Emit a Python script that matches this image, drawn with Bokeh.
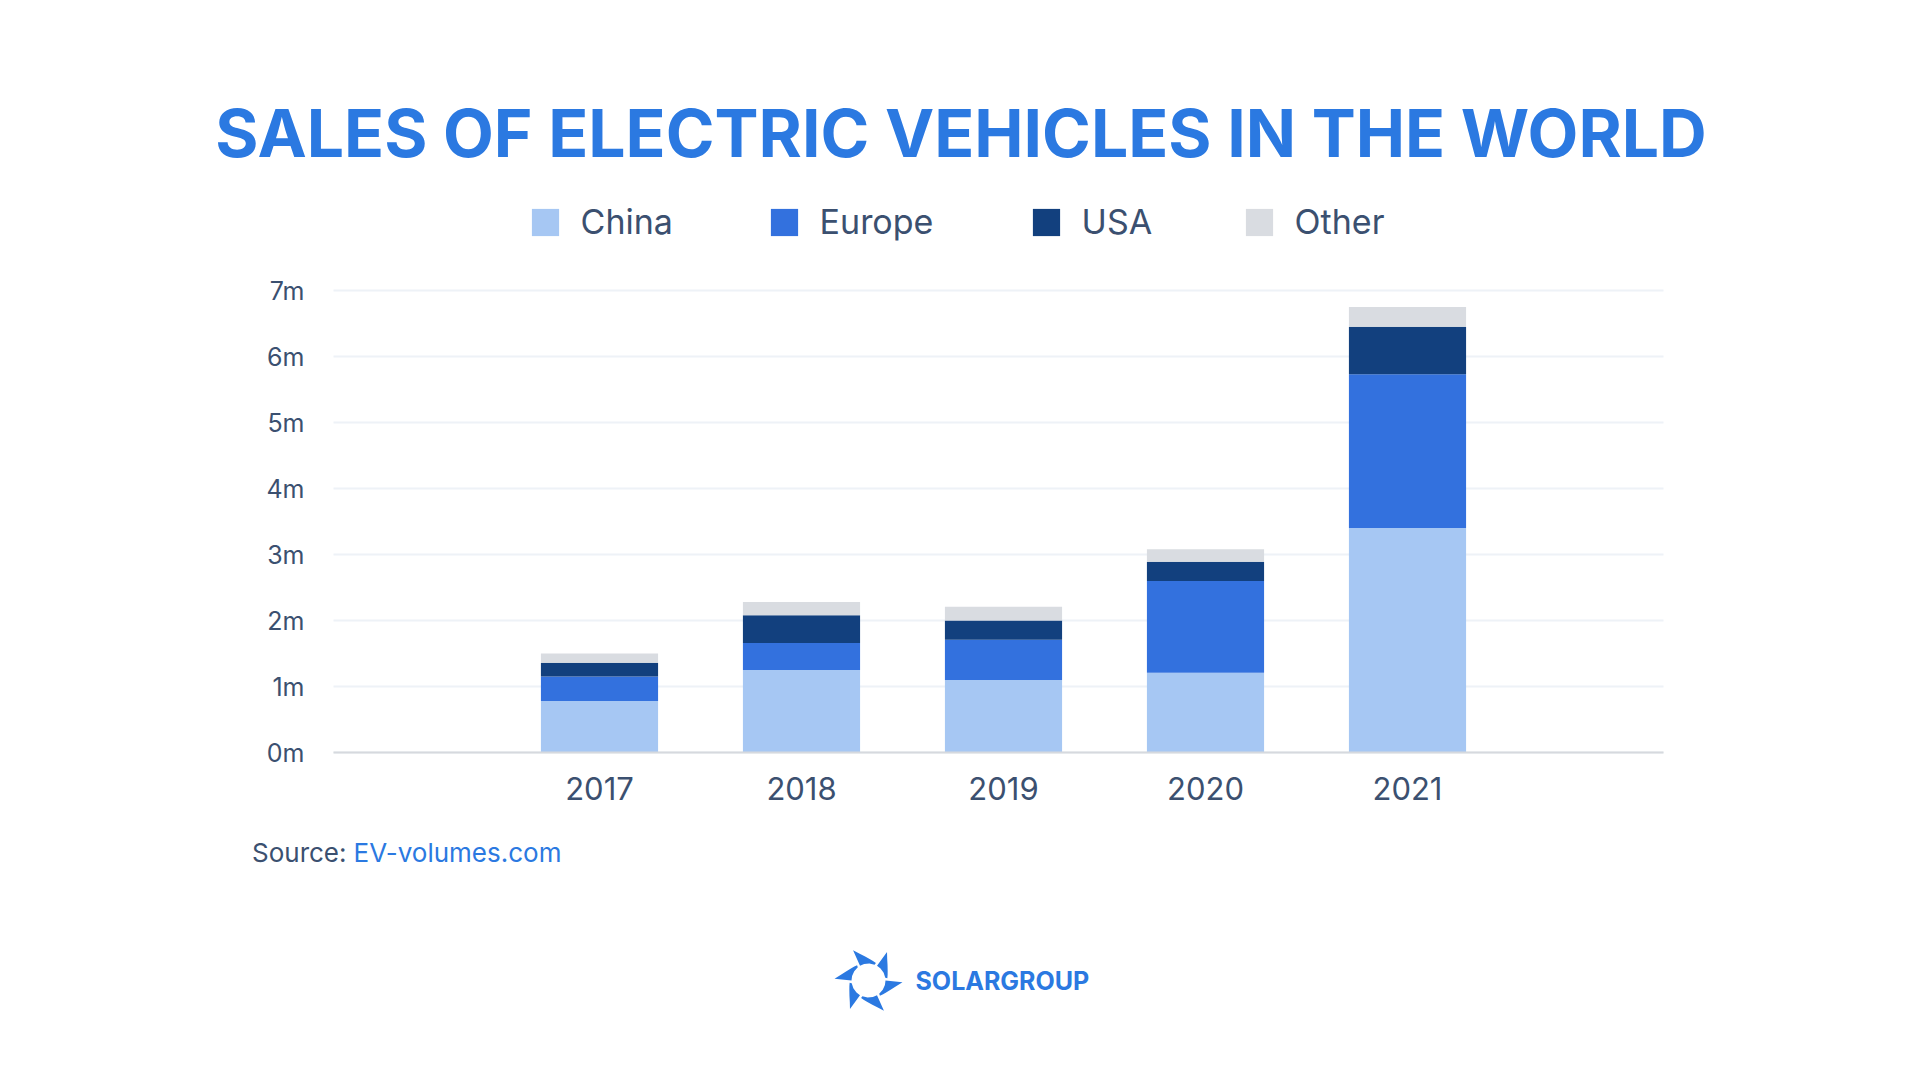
import numpy as np
from bokeh.plotting import figure
from bokeh.models import (ColumnDataSource, Range1d, FixedTicker, Label, Legend,
                          LegendItem, LinearAxis)
from bokeh.embed import file_html
from bokeh.resources import INLINE

# ---------------- data ----------------
years = ["2017", "2018", "2019", "2020", "2021"]
china = [0.78, 1.25, 1.10, 1.21, 3.40]
europe = [0.37, 0.41, 0.61, 1.39, 2.33]
usa = [0.21, 0.42, 0.29, 0.29, 0.72]
other = [0.14, 0.20, 0.21, 0.19, 0.30]
series_names = ["China", "Europe", "USA", "Other"]
series_colors = ["#a6c7f3", "#3371de", "#12407e", "#d9dce1"]
y_ticks = [0, 1, 2, 3, 4, 5, 6, 7]
y_tick_labels = ["0m", "1m", "2m", "3m", "4m", "5m", "6m", "7m"]
title_text = "SALES OF ELECTRIC VEHICLES IN THE WORLD"
source_prefix = "Source:"
source_link = "EV-volumes.com"
brand = "SOLARGROUP"

# ---------------- styles / layout (pixels) ----------------
FONT = "Inter"
BLUE = "#2b79e1"
SLATE = "#3b5070"
W, H = 1904, 1064
PX_PER_CAT = 202.0        # horizontal pixels per category
PX_PER_M = 66.0           # vertical pixels per million
CAT0_PX = 599.0           # pixel x of first category centre
ZERO_PY = 752.0           # pixel y of the 0m baseline
PLOT_L, PLOT_R = 333.0, 1663.0

X0 = -CAT0_PX / PX_PER_CAT
X1 = X0 + W / PX_PER_CAT
Y1 = ZERO_PY / PX_PER_M
Y0 = Y1 - H / PX_PER_M


def dx(px):
    return X0 + px / PX_PER_CAT


def dy(py):
    return (ZERO_PY - py) / PX_PER_M


xpos = list(range(len(years)))
src = ColumnDataSource(dict(x=xpos, China=china, Europe=europe, USA=usa, Other=other))

p = figure(width=W, height=H, x_range=Range1d(X0, X1), y_range=Range1d(Y0, Y1),
           output_backend="svg", toolbar_location=None, min_border=0,
           x_axis_location=None, y_axis_location=None)
p.outline_line_color = None
p.background_fill_color = "white"
p.border_fill_color = "white"
p.grid.visible = False

# horizontal grid lines at the y ticks, limited to the plot area
p.segment(x0=[dx(PLOT_L)] * len(y_ticks), x1=[dx(PLOT_R)] * len(y_ticks),
          y0=y_ticks, y1=y_ticks, line_color="#eef2f7", line_width=2)

renderers = p.vbar_stack(series_names, x="x", width=0.58, source=src,
                         fill_color=series_colors, line_color=None)

# axes drawn at fixed locations inside the canvas
xaxis = LinearAxis(fixed_location=0, bounds=(dx(PLOT_L), dx(PLOT_R)))
xaxis.ticker = FixedTicker(ticks=xpos)
xaxis.major_label_overrides = {i: y for i, y in zip(xpos, years)}
xaxis.axis_line_color = "#d6d9de"
xaxis.axis_line_width = 2
xaxis.major_tick_line_color = None
xaxis.minor_tick_line_color = None
xaxis.major_label_text_font = FONT
xaxis.major_label_text_font_size = "31px"
xaxis.major_label_text_color = SLATE
xaxis.major_label_standoff = 18
p.add_layout(xaxis, "below")

yaxis = LinearAxis(fixed_location=dx(PLOT_L), bounds=(0, 7))
yaxis.ticker = FixedTicker(ticks=y_ticks)
yaxis.major_label_overrides = {t: l for t, l in zip(y_ticks, y_tick_labels)}
yaxis.axis_line_color = None
yaxis.major_tick_line_color = None
yaxis.minor_tick_line_color = None
yaxis.major_label_text_font = FONT
yaxis.major_label_text_font_size = "25px"
yaxis.major_label_text_color = SLATE
yaxis.major_label_standoff = 23
p.add_layout(yaxis, "left")

# legends (one per item, placed like the reference)
GLYPH = 34                       # legend box; the drawn square is 80% of it
INSET = GLYPH * 0.1
legend_x = [531, 770, 1032, 1245]  # left edge of each coloured square
legend_bottom = H - 242
for r, name, lx in zip(renderers, series_names, legend_x):
    lg = Legend(items=[LegendItem(label=name, renderers=[r])],
                location=(lx - INSET, legend_bottom), orientation="horizontal",
                glyph_width=GLYPH, glyph_height=GLYPH, label_height=GLYPH,
                label_standoff=int(round(22 - INSET)), padding=0, margin=0, spacing=0,
                border_line_color=None, background_fill_alpha=0,
                label_text_font=FONT, label_text_font_size="34px",
                label_text_color=SLATE)
    p.add_layout(lg)

# title, source (y given as the visual centre of the text)
p.add_layout(Label(x=960.5, y=H - 132, x_units="screen", y_units="screen",
                   text=title_text, text_align="center", text_baseline="alphabetic",
                   text_font=FONT, text_font_size="66px", text_font_style="bold",
                   text_color=BLUE))
p.add_layout(Label(x=346, y=H - 852, x_units="screen", y_units="screen",
                   text=source_prefix, text_align="right", text_baseline="alphabetic",
                   text_font=FONT, text_font_size="26px", text_color=SLATE))
p.add_layout(Label(x=353, y=H - 852, x_units="screen", y_units="screen",
                   text=source_link, text_align="left", text_baseline="alphabetic",
                   text_font=FONT, text_font_size="26px", text_color=BLUE))

# ---------------- logo (six curved blades around a hollow ring) ----------------
cx, cy = 868.0, 980.0
blade_r = [34, 28.5, 24.5, 21.5, 20, 19, 17, 17, 17, 17]
blade_a = [0, 8, 18, 30, 40, 50, 48, 30, 12, -3]
xs, ys = [], []
for k in range(6):
    phi = 3 + 60 * k
    rr = np.array(blade_r, dtype=float)
    aa = np.radians([phi + a for a in blade_a])
    px = cx + rr * np.cos(aa)
    py = cy + rr * np.sin(aa)
    xs.append([dx(v) for v in px])
    ys.append([dy(v) for v in py])
p.patches(xs, ys, fill_color=BLUE, line_color=None)
p.add_layout(Label(x=915, y=H - 980, x_units="screen", y_units="screen",
                   text=brand, text_align="left", text_baseline="alphabetic",
                   text_font=FONT, text_font_size="25px", text_font_style="bold",
                   text_color=BLUE))

open("out.html", "w").write(file_html(p, INLINE))
